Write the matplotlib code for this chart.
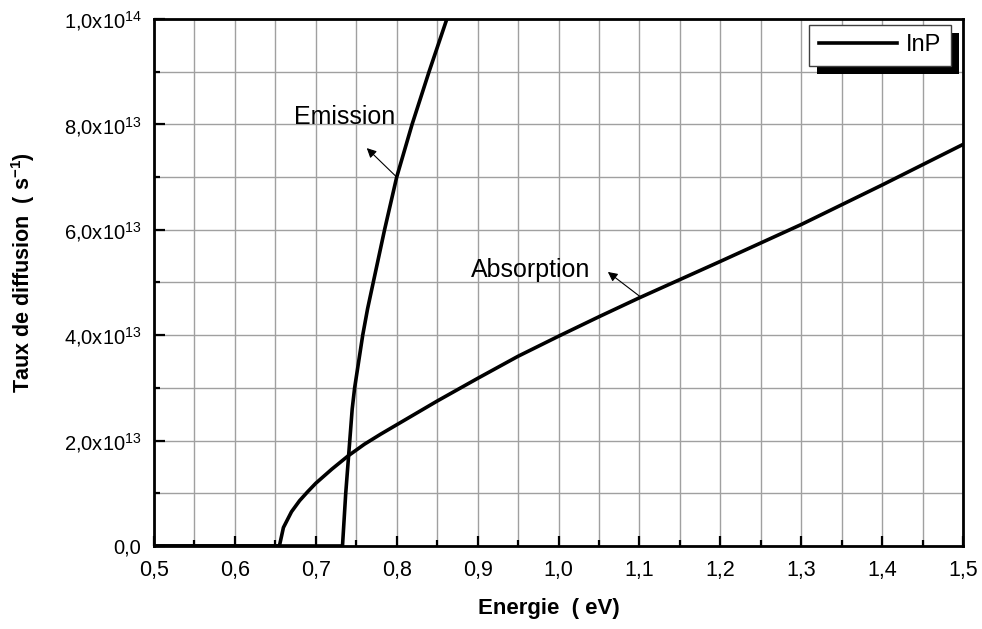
import matplotlib
matplotlib.use("Agg")
import matplotlib.pyplot as plt
from matplotlib.patches import Rectangle
from matplotlib.ticker import MultipleLocator, FuncFormatter

plt.rcParams['font.family'] = ['Liberation Sans', 'DejaVu Sans']
plt.rcParams['mathtext.default'] = 'regular'

# Absorption curve (energy in eV, rate in s^-1)
e_abs = [0.50, 0.60, 0.655, 0.66, 0.67, 0.68, 0.69, 0.70, 0.72, 0.74, 0.76, 0.78,
         0.80, 0.85, 0.90, 0.95, 1.00, 1.05, 1.10, 1.20, 1.30, 1.40, 1.50]
r_abs = [0.0, 0.0, 0.0, 0.35e13, 0.65e13, 0.86e13, 1.03e13, 1.19e13, 1.46e13, 1.71e13,
         1.93e13, 2.12e13, 2.30e13, 2.75e13, 3.18e13, 3.60e13, 3.98e13, 4.35e13,
         4.71e13, 5.40e13, 6.10e13, 6.85e13, 7.62e13]

# Emission curve
e_em = [0.50, 0.65, 0.733, 0.735, 0.737, 0.740, 0.742, 0.745, 0.748, 0.753, 0.758,
        0.764, 0.771, 0.785, 0.800, 0.819, 0.840, 0.862, 0.880]
r_em = [0.0, 0.0, 0.0, 0.5e13, 1.0e13, 1.6e13, 2.0e13, 2.6e13, 3.0e13, 3.5e13, 4.0e13,
        4.5e13, 5.0e13, 6.0e13, 7.0e13, 8.0e13, 9.0e13, 1.0e14, 1.08e14]

x_ticks = [0.5, 0.6, 0.7, 0.8, 0.9, 1.0, 1.1, 1.2, 1.3, 1.4, 1.5]
y_ticks = [0.0, 2e13, 4e13, 6e13, 8e13, 1e14]

fig = plt.figure(figsize=(9.82, 6.29), dpi=100)
ax = fig.add_axes([0.1568, 0.132, 0.8239, 0.8378])

ax.plot(e_abs, r_abs, color='black', lw=2.6, label='InP', zorder=3)
ax.plot(e_em, r_em, color='black', lw=2.6, zorder=3)

ax.set_xlim(0.5, 1.5)
ax.set_ylim(0, 1e14)
ax.set_xticks(x_ticks)
ax.set_yticks(y_ticks)
ax.xaxis.set_minor_locator(MultipleLocator(0.05))
ax.yaxis.set_minor_locator(MultipleLocator(1e13))

ax.xaxis.set_major_formatter(FuncFormatter(lambda v, p: f"{v:.1f}".replace('.', ',')))


def yfmt(v, p):
    if v == 0:
        return "0,0"
    exp = 0
    m = v
    while m >= 10:
        m /= 10
        exp += 1
    return f"{m:.1f}".replace('.', ',') + "x10$^{%d}$" % exp


ax.yaxis.set_major_formatter(FuncFormatter(yfmt))

ax.grid(True, which='both', color='#a0a0a0', lw=1.0, zorder=0)
ax.set_axisbelow(True)

ax.tick_params(which='both', direction='in', top=False, right=False,
               width=1.6, colors='black')
ax.tick_params(axis='x', which='major', length=7, pad=10, labelsize=15.5)
ax.tick_params(axis='y', which='major', length=8, pad=9, labelsize=14.5)
ax.tick_params(which='minor', length=4)
for s in ax.spines.values():
    s.set_linewidth(2.0)

ax.set_xlabel("Energie  ( eV)", fontsize=16, fontweight='bold')
ax.set_ylabel("Taux de diffusion  ( s$^{-1}$)", fontsize=15.5, fontweight='bold')
ax.xaxis.set_label_coords(0.488, -0.098)
ax.yaxis.set_label_coords(-0.144, 0.518)

ax.annotate("", xy=(0.763, 7.55e13), xytext=(0.800, 7.0e13),
            arrowprops=dict(arrowstyle='-|>', color='black', lw=0.8,
                            mutation_scale=14, shrinkA=0, shrinkB=0))
ax.text(0.736, 8.14e13, "Emission", fontsize=18, ha='center', va='center')

ax.annotate("", xy=(1.061, 5.2e13), xytext=(1.101, 4.73e13),
            arrowprops=dict(arrowstyle='-|>', color='black', lw=0.8,
                            mutation_scale=14, shrinkA=0, shrinkB=0))
ax.text(0.965, 5.24e13, "Absorption", fontsize=18, ha='center', va='center')

leg = ax.legend(loc='upper right', bbox_to_anchor=(0.985, 0.9886), borderaxespad=0,
                fancybox=False, framealpha=1, edgecolor='#404040', fontsize=17,
                handlelength=3.3, borderpad=0.4, handletextpad=0.4)
leg.get_frame().set_linewidth(1.0)
leg.set_zorder(6)

fig.canvas.draw()
bb = leg.get_window_extent().transformed(ax.transAxes.inverted())
dx = 8 / ax.bbox.width
dy = 8 / ax.bbox.height
ax.add_patch(Rectangle((bb.x0 + dx, bb.y0 - dy), bb.width, bb.height,
                       transform=ax.transAxes, facecolor='black', edgecolor='none',
                       zorder=5, clip_on=False))

fig.savefig("out.png", dpi=100)
